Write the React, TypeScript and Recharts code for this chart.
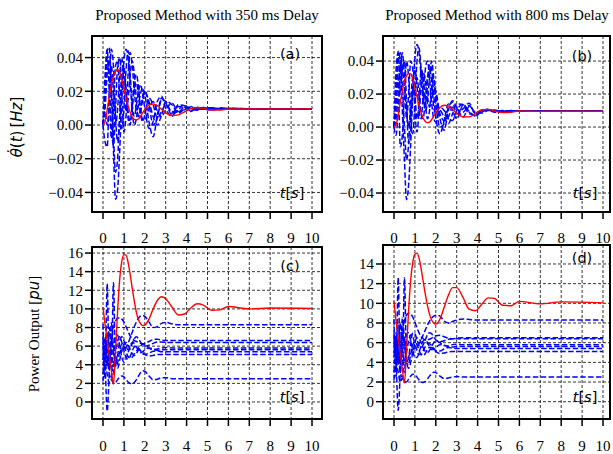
import React from 'react';
import { LineChart, Line, XAxis, YAxis, CartesianGrid, ReferenceArea } from 'recharts';

// shared time grid (s)
const TIME = [
  0, 0.1, 0.2, 0.3, 0.4, 0.5, 0.6, 0.7, 0.8, 0.9, 1.0, 1.1, 1.2, 1.3, 1.4, 1.5, 1.6, 1.7, 1.8, 1.9, 2.0,
  2.2, 2.4, 2.6, 2.8, 3.0, 3.3, 3.6, 3.9, 4.2, 4.5, 4.8, 5.2, 5.6, 6.0, 7.0, 8.0, 10.0,
];
const X_TICKS = [0, 1, 2, 3, 4, 5, 6, 7, 8, 9, 10];
const FREQ_TICKS = [-0.04, -0.02, 0, 0.02, 0.04];
const POWER_TICKS_C = [0, 2, 4, 6, 8, 10, 12, 14, 16];
const POWER_TICKS_D = [0, 2, 4, 6, 8, 10, 12, 14];

const TITLE_A = 'Proposed Method with 350 ms Delay';
const TITLE_B = 'Proposed Method with 800 ms Delay';

// (a) frequency, 350 ms
const RED_A = [
  0, 0.002, 0.009, 0.017, 0.024, 0.029, 0.032, 0.033, 0.0315, 0.027, 0.022, 0.0165, 0.0115, 0.0075, 0.0047, 0.0033,
  0.003, 0.0037, 0.0053, 0.0073, 0.0093, 0.0118, 0.0125, 0.0115, 0.0093, 0.0072, 0.0056, 0.006, 0.0078, 0.0097,
  0.0104, 0.0098, 0.0089, 0.0089, 0.0095, 0.0095, 0.0096, 0.0096,
];
const BLUE_A = [
  [0, 0.02, 0.044, 0.046, 0.02, -0.015, -0.044, -0.038, -0.015, 0.015, 0.038, 0.045, 0.04, 0.025, 0.008, 0.0, 0.004,
    0.012, 0.019, 0.022, 0.018, 0.002, -0.007, 0.006, 0.016, 0.013, 0.006, 0.009, 0.012, 0.008, 0.0105, 0.0095, 0.0088,
    0.0102, 0.0096, 0.0094, 0.0097, 0.0097],
  [0, 0.015, 0.04, 0.028, 0.0, -0.012, 0.01, 0.035, 0.04, 0.018, -0.004, 0.005, 0.03, 0.043, 0.035, 0.02, 0.008,
    0.005, 0.01, 0.017, 0.02, 0.012, 0.0, 0.004, 0.015, 0.014, 0.007, 0.011, 0.0105, 0.0088, 0.0098, 0.0104, 0.0092,
    0.0098, 0.0097, 0.0096, 0.0097, 0.0097],
  [0, -0.01, -0.013, 0.02, 0.045, 0.035, 0.005, -0.01, 0.005, 0.03, 0.035, 0.02, 0.004, 0.0, 0.012, 0.026, 0.03,
    0.022, 0.01, 0.003, 0.003, 0.01, 0.014, 0.008, 0.005, 0.009, 0.013, 0.008, 0.009, 0.011, 0.0092, 0.0098, 0.0103,
    0.0093, 0.0099, 0.0096, 0.0097, 0.0097],
  [0, 0.01, 0.03, 0.038, 0.025, -0.005, -0.028, -0.02, 0.005, 0.025, 0.03, 0.022, 0.008, 0.002, 0.01, 0.022, 0.025,
    0.017, 0.006, 0.002, 0.006, 0.016, 0.012, 0.004, 0.008, 0.012, 0.008, 0.0075, 0.0108, 0.0098, 0.0087, 0.0099,
    0.0101, 0.0094, 0.0098, 0.0096, 0.0097, 0.0097],
  [0, 0.03, 0.045, 0.02, -0.008, 0.01, 0.035, 0.038, 0.015, -0.002, 0.01, 0.032, 0.044, 0.03, 0.012, 0.005, 0.012,
    0.02, 0.024, 0.018, 0.01, -0.002, 0.002, 0.014, 0.017, 0.01, 0.005, 0.012, 0.0115, 0.0082, 0.0101, 0.0102, 0.0091,
    0.01, 0.0095, 0.0097, 0.0097, 0.0097],
  [0, 0.008, 0.0, 0.012, 0.035, 0.02, 0.0, 0.01, 0.03, 0.04, 0.025, 0.008, 0.015, 0.03, 0.038, 0.03, 0.015, 0.005,
    0.008, 0.015, 0.02, 0.014, 0.005, 0.0, 0.006, 0.014, 0.012, 0.007, 0.0095, 0.0108, 0.0094, 0.0093, 0.0102, 0.0096,
    0.0098, 0.0097, 0.0097, 0.0097],
];

// (b) frequency, 800 ms
const RED_B = [
  0, 0.0015, 0.007, 0.015, 0.022, 0.028, 0.031, 0.0325, 0.0322, 0.029, 0.024, 0.0185, 0.013, 0.0085, 0.0053, 0.0034,
  0.0027, 0.003, 0.0045, 0.0065, 0.0087, 0.0118, 0.0132, 0.0128, 0.0108, 0.0083, 0.0061, 0.0062, 0.0083, 0.0105,
  0.0107, 0.0097, 0.0088, 0.009, 0.0097, 0.0095, 0.0096, 0.0096,
];
const BLUE_B = [
  [0, 0.02, 0.046, 0.04, 0.01, -0.02, -0.044, -0.035, -0.01, 0.02, 0.042, 0.05, 0.045, 0.03, 0.015, 0.012, 0.025,
    0.038, 0.035, 0.02, 0.006, -0.004, 0.004, 0.014, 0.01, 0.005, 0.013, 0.008, 0.0075, 0.0105, 0.0102, 0.009, 0.0101,
    0.0096, 0.0098, 0.0096, 0.0097, 0.0097],
  [0, 0.012, 0.03, -0.012, -0.005, 0.02, 0.04, 0.03, 0.005, -0.004, 0.015, 0.04, 0.048, 0.035, 0.02, 0.01, 0.015,
    0.03, 0.04, 0.03, 0.015, 0.0, 0.002, 0.012, 0.015, 0.008, 0.011, 0.0145, 0.0078, 0.0095, 0.0108, 0.0094, 0.0098,
    0.0099, 0.0096, 0.0097, 0.0097, 0.0097],
  [0, 0.035, 0.045, 0.02, 0.035, 0.04, 0.015, -0.01, -0.002, 0.025, 0.035, 0.025, 0.01, 0.005, 0.02, 0.035, 0.04,
    0.03, 0.015, 0.005, 0.003, 0.01, 0.006, 0.002, 0.008, 0.014, 0.0135, 0.0095, 0.0065, 0.0098, 0.0106, 0.0096,
    0.0092, 0.01, 0.0097, 0.0097, 0.0097, 0.0097],
  [0, 0.005, 0.02, 0.04, 0.025, 0.0, -0.02, -0.01, 0.015, 0.03, 0.02, 0.005, 0.015, 0.035, 0.03, 0.015, 0.005, 0.01,
    0.025, 0.03, 0.02, 0.005, -0.002, 0.01, 0.016, 0.012, 0.006, 0.0125, 0.009, 0.0085, 0.01, 0.0103, 0.0095, 0.0097,
    0.0099, 0.0096, 0.0097, 0.0097],
  [0, -0.005, 0.01, 0.03, 0.045, 0.03, 0.005, 0.02, 0.04, 0.035, 0.01, -0.003, 0.01, 0.025, 0.033, 0.028, 0.018,
    0.012, 0.018, 0.024, 0.022, 0.008, 0.004, 0.006, 0.012, 0.011, 0.009, 0.013, 0.0082, 0.0092, 0.0104, 0.01, 0.0094,
    0.0098, 0.0097, 0.0097, 0.0097, 0.0097],
  [0, 0.018, 0.04, 0.045, 0.035, 0.025, 0.01, 0.0, 0.01, 0.02, 0.028, 0.03, 0.02, 0.008, 0.005, 0.018, 0.03, 0.035,
    0.028, 0.012, 0.008, 0.012, 0.01, 0.005, 0.004, 0.01, 0.014, 0.009, 0.0068, 0.01, 0.0103, 0.0097, 0.0096, 0.0099,
    0.0097, 0.0097, 0.0097, 0.0097],
];

// (c) power output, 350 ms
const RED_C = [
  10.2, 8.3, 6.6, 5.0, 3.4, 1.9, 5.5, 9.8, 13.2, 15.1, 15.8, 15.8, 15.0, 13.7, 12.2, 10.8, 9.6, 8.8, 8.4, 8.2, 8.25,
  8.9, 10.0, 10.9, 11.3, 11.1, 10.2, 9.35, 9.45, 10.1, 10.55, 10.4, 9.85, 9.9, 10.25, 10.0, 10.1, 10.05,
];
const BLUE_C = [
  [5.0, 6.0, 3.8, 5.2, 4.5, 3.8, 4.4, 5.0, 5.3, 5.5, 5.6, 5.9, 6.3, 6.9, 7.5, 8.1, 8.6, 9.0, 9.25, 9.3, 9.2, 8.6,
    8.0, 8.1, 8.45, 8.55, 8.4, 8.3, 8.3, 8.3, 8.3, 8.3, 8.3, 8.3, 8.3, 8.3, 8.3, 8.3],
  [8.4, 2.5, 12.7, 3.5, 6.5, 8.0, 8.7, 9.0, 9.05, 8.9, 8.6, 8.1, 7.6, 7.1, 6.8, 6.6, 6.5, 6.4, 6.3, 6.25, 6.3, 6.5,
    6.7, 6.75, 6.65, 6.6, 6.6, 6.6, 6.6, 6.6, 6.6, 6.6, 6.6, 6.6, 6.6, 6.6, 6.6, 6.6],
  [6.5, 4.0, -1.0, 3.0, 7.0, 5.5, 4.0, 5.0, 6.5, 7.0, 6.6, 6.0, 5.6, 5.8, 6.3, 6.8, 7.0, 6.8, 6.4, 6.1, 6.0, 6.1,
    6.3, 6.45, 6.45, 6.4, 6.4, 6.4, 6.4, 6.4, 6.4, 6.4, 6.4, 6.4, 6.4, 6.4, 6.4, 6.4],
  [3.0, 6.5, 5.0, 3.0, 2.5, 12.8, 4.0, 3.6, 4.5, 5.6, 6.2, 6.4, 6.1, 5.6, 5.2, 5.0, 5.2, 5.6, 6.0, 6.2, 6.1, 5.8,
    5.6, 5.7, 5.8, 5.85, 5.8, 5.8, 5.8, 5.8, 5.8, 5.8, 5.8, 5.8, 5.8, 5.8, 5.8, 5.8],
  [6.0, 3.5, 7.5, 6.0, 4.0, 3.0, 6.5, 7.2, 6.0, 4.8, 4.3, 4.6, 5.3, 6.0, 6.4, 6.3, 5.9, 5.5, 5.3, 5.4, 5.6, 5.8,
    5.7, 5.55, 5.6, 5.6, 5.6, 5.6, 5.6, 5.6, 5.6, 5.6, 5.6, 5.6, 5.6, 5.6, 5.6, 5.6],
  [4.5, 7.0, 4.0, 8.0, 5.5, 4.0, 5.2, 6.5, 7.0, 6.4, 5.5, 4.8, 4.6, 4.9, 5.5, 5.9, 6.0, 5.8, 5.5, 5.2, 5.1, 5.25,
    5.45, 5.5, 5.4, 5.4, 5.4, 5.4, 5.4, 5.4, 5.4, 5.4, 5.4, 5.4, 5.4, 5.4, 5.4, 5.4],
  [7.0, 5.0, 6.0, 4.5, 8.5, 6.0, 3.8, 4.2, 5.5, 6.2, 6.0, 5.4, 4.9, 4.7, 4.8, 5.2, 5.5, 5.6, 5.5, 5.3, 5.1, 4.95,
    5.0, 5.1, 5.1, 5.1, 5.1, 5.1, 5.1, 5.1, 5.1, 5.1, 5.1, 5.1, 5.1, 5.1, 5.1, 5.1],
  [2.2, 4.0, 3.0, 2.0, 2.4, 2.0, 2.1, 2.4, 2.7, 2.8, 2.7, 2.4, 2.15, 2.0, 1.95, 2.1, 2.4, 2.8, 3.15, 3.35, 3.3, 2.8,
    2.4, 2.45, 2.6, 2.6, 2.5, 2.5, 2.5, 2.5, 2.5, 2.5, 2.5, 2.5, 2.5, 2.5, 2.5, 2.5],
];

// (d) power output, 800 ms
const RED_D = [
  10.2, 8.2, 6.5, 4.9, 3.3, 1.9, 5.3, 9.3, 12.4, 14.2, 15.0, 15.1, 14.6, 13.5, 12.2, 10.9, 9.8, 8.9, 8.3, 8.0, 7.9,
  8.4, 9.6, 10.8, 11.6, 11.6, 10.6, 9.4, 9.25, 9.9, 10.55, 10.5, 9.8, 9.75, 10.2, 9.95, 10.15, 10.05,
];
const BLUE_D = [
  [5.0, 6.2, 3.8, 5.0, 4.2, 3.6, 4.0, 4.6, 5.0, 5.3, 5.4, 5.6, 5.9, 6.3, 6.8, 7.3, 7.8, 8.2, 8.5, 8.7, 8.8, 8.7,
    8.2, 8.0, 8.15, 8.3, 8.4, 8.35, 8.3, 8.3, 8.3, 8.3, 8.3, 8.3, 8.3, 8.3, 8.3, 8.3],
  [8.4, 2.5, 12.6, 3.0, 6.8, 8.3, 8.8, 9.0, 8.9, 8.6, 8.1, 7.5, 7.0, 6.6, 6.4, 6.3, 6.3, 6.35, 6.45, 6.6, 6.7, 6.75,
    6.6, 6.45, 6.4, 6.45, 6.5, 6.5, 6.5, 6.5, 6.5, 6.5, 6.5, 6.5, 6.5, 6.5, 6.5, 6.5],
  [6.5, 4.0, -0.9, 3.0, 7.0, 5.8, 4.0, 4.5, 6.0, 7.0, 6.9, 6.3, 5.7, 5.5, 5.8, 6.3, 6.8, 7.0, 6.9, 6.6, 6.3, 6.1,
    6.2, 6.35, 6.4, 6.4, 6.4, 6.4, 6.4, 6.4, 6.4, 6.4, 6.4, 6.4, 6.4, 6.4, 6.4, 6.4],
  [3.0, 6.5, 5.0, 3.0, 2.5, 12.6, 4.2, 3.4, 4.0, 5.0, 6.0, 6.5, 6.4, 6.0, 5.5, 5.1, 5.0, 5.2, 5.6, 6.0, 6.2, 6.0,
    5.7, 5.65, 5.8, 5.85, 5.8, 5.8, 5.8, 5.8, 5.8, 5.8, 5.8, 5.8, 5.8, 5.8, 5.8, 5.8],
  [6.0, 3.5, 7.8, 6.0, 4.0, 3.0, 6.8, 7.0, 6.2, 5.2, 4.5, 4.5, 5.0, 5.7, 6.2, 6.3, 6.0, 5.6, 5.3, 5.3, 5.5, 5.8,
    5.75, 5.6, 5.55, 5.6, 5.6, 5.6, 5.6, 5.6, 5.6, 5.6, 5.6, 5.6, 5.6, 5.6, 5.6, 5.6],
  [4.5, 7.0, 4.0, 8.0, 5.5, 4.0, 5.0, 6.2, 6.8, 6.6, 5.9, 5.2, 4.8, 4.8, 5.2, 5.6, 5.9, 5.9, 5.7, 5.4, 5.2, 5.15,
    5.35, 5.5, 5.45, 5.4, 5.4, 5.4, 5.4, 5.4, 5.4, 5.4, 5.4, 5.4, 5.4, 5.4, 5.4, 5.4],
  [7.0, 5.0, 6.0, 4.5, 8.5, 6.2, 3.9, 3.8, 4.8, 5.8, 6.1, 5.8, 5.2, 4.8, 4.7, 4.9, 5.3, 5.5, 5.5, 5.3, 5.1, 4.9,
    4.95, 5.05, 5.1, 5.1, 5.1, 5.1, 5.1, 5.1, 5.1, 5.1, 5.1, 5.1, 5.1, 5.1, 5.1, 5.1],
  [2.2, 4.0, 3.0, 2.0, 2.4, 2.0, 2.0, 2.3, 2.6, 2.8, 2.75, 2.5, 2.2, 2.0, 1.95, 2.05, 2.3, 2.6, 2.85, 3.0, 2.95, 2.6,
    2.35, 2.4, 2.5, 2.55, 2.5, 2.5, 2.5, 2.5, 2.5, 2.5, 2.5, 2.5, 2.5, 2.5, 2.5, 2.5],
];

const SERIF = '"Liberation Serif", "Times New Roman", serif';
const SANS = '"DejaVu Sans", sans-serif';
const BLUE = '#0000ff';
const RED = '#ff0000';

const buildRows = (red: number[], blues: number[][]) =>
  TIME.map((t, i) => {
    const row: Record<string, number> = { t, red: red[i] };
    blues.forEach((b, j) => {
      row['b' + j] = b[i];
    });
    return row;
  });

const fmtFreq = (v: number) => {
  const s = Math.abs(v).toFixed(2);
  return v < -1e-9 ? '\u2212' + s : s;
};

const tickText = { fill: '#000', fontSize: 15, fontFamily: SERIF, style: { fontFamily: SERIF, fontSize: 15 } };
const tickLine = { stroke: '#000', strokeWidth: 1.5 };

interface PanelProps {
  left: number;
  top: number;
  width: number;
  height: number;
  marginTop: number;
  marginRight: number;
  xDomain: [number, number];
  yDomain: [number, number];
  yTicks: number[];
  red: number[];
  blues: number[][];
  freq: boolean;
  topAxisHeight?: number;
  topAxisGap?: number;
}

const Panel: React.FC<PanelProps> = (p) => {
  const rows = buildRows(p.red, p.blues);
  const hasTop = p.topAxisHeight !== undefined;
  return (
    <div style={{ position: 'absolute', left: p.left, top: p.top, fontFamily: SERIF, fontSize: 15 }}>
      <LineChart
        width={p.width}
        height={p.height}
        data={rows}
        margin={{ top: p.marginTop, right: p.marginRight, bottom: 0, left: 0 }}
      >
        <CartesianGrid xAxisId="bx" stroke="#000" strokeDasharray="3 2" strokeWidth={0.8} />
        {hasTop && (
          <XAxis
            xAxisId="tx"
            orientation="top"
            dataKey="t"
            type="number"
            domain={p.xDomain}
            ticks={X_TICKS}
            interval={0}
            allowDataOverflow
            height={p.topAxisHeight}
            axisLine={false}
            tickLine={false}
            tickSize={0}
            tickMargin={p.topAxisGap}
            tick={tickText}
          />
        )}
        <XAxis
          xAxisId="bx"
          dataKey="t"
          type="number"
          domain={p.xDomain}
          ticks={X_TICKS}
          interval={0}
          allowDataOverflow
          height={p.freq ? 28 : 35}
          axisLine={false}
          tickLine={tickLine}
          tickSize={7}
          tickMargin={14}
          tick={tickText}
          tickFormatter={p.freq ? () => '' : (v: number) => String(v)}
        />
        <YAxis
          type="number"
          domain={p.yDomain}
          ticks={p.yTicks}
          interval={0}
          allowDataOverflow
          width={92}
          axisLine={false}
          tickLine={tickLine}
          tickSize={7}
          tickMargin={2}
          tick={tickText}
          tickFormatter={p.freq ? fmtFreq : (v: number) => String(v)}
        />
        {p.blues.map((_, j) => (
          <Line
            key={j}
            xAxisId="bx"
            type="monotone"
            dataKey={'b' + j}
            stroke={BLUE}
            strokeWidth={1.5}
            strokeDasharray="5.5 2.4"
            dot={false}
            isAnimationActive={false}
          />
        ))}
        <Line
          xAxisId="bx"
          type="monotone"
          dataKey="red"
          stroke={RED}
          strokeWidth={1.4}
          dot={false}
          isAnimationActive={false}
        />
        <ReferenceArea
          xAxisId="bx"
          x1={p.xDomain[0]}
          x2={p.xDomain[1]}
          y1={p.yDomain[0]}
          y2={p.yDomain[1]}
          fill="none"
          stroke="#000"
          strokeWidth={2}
          ifOverflow="visible"
        />
      </LineChart>
    </div>
  );
};

const Txt: React.FC<{ x: number; y: number; rotate?: boolean; style?: React.CSSProperties; children: React.ReactNode }> = ({
  x,
  y,
  rotate,
  style,
  children,
}) => (
  <div
    style={{
      position: 'absolute',
      left: x,
      top: y,
      transform: `translate(-50%, -50%)${rotate ? ' rotate(-90deg)' : ''}`,
      whiteSpace: 'nowrap',
      lineHeight: 1,
      color: '#000',
      ...style,
    }}
  >
    {children}
  </div>
);

const serif15 = { fontFamily: SERIF, fontSize: 15 };
const sans14 = { fontFamily: SANS, fontSize: 14.5 };
const TS = () => (
  <span>
    <i>t</i>[<i>s</i>]
  </span>
);

export default function App() {
  const xA: [number, number] = [-0.526, 10.478];
  const xB: [number, number] = [-0.526, 10.335];
  return (
    <div style={{ position: 'fixed', left: 0, top: 0, width: 613, height: 454, background: '#fff', overflow: 'hidden' }}>
      <Panel left={0} top={0} width={330} height={240} marginTop={36} marginRight={8} xDomain={xA}
        yDomain={[-0.0516, 0.0528]} yTicks={FREQ_TICKS} red={RED_A} blues={BLUE_A} freq />
      <Panel left={291} top={0} width={322} height={240} marginTop={36} marginRight={3} xDomain={xB}
        yDomain={[-0.0515, 0.0552]} yTicks={FREQ_TICKS} red={RED_B} blues={BLUE_B} freq />
      <Panel left={0} top={215} width={330} height={239} marginTop={0} marginRight={8} xDomain={xA}
        yDomain={[-1.83, 16.65]} yTicks={POWER_TICKS_C} red={RED_C} blues={BLUE_C} freq={false}
        topAxisHeight={32} topAxisGap={4} />
      <Panel left={291} top={215} width={322} height={239} marginTop={0} marginRight={3} xDomain={xB}
        yDomain={[-1.76, 15.93]} yTicks={POWER_TICKS_D} red={RED_D} blues={BLUE_D} freq={false}
        topAxisHeight={30} topAxisGap={2} />

      <Txt x={207} y={15} style={serif15}>{TITLE_A}</Txt>
      <Txt x={497} y={15} style={serif15}>{TITLE_B}</Txt>

      <Txt x={17} y={127} rotate style={{ fontFamily: SANS, fontSize: 15 }}>
        <i>{'\u03B8\u0307'}</i>(<i>t</i>)&#8201;[<i>Hz</i>]
      </Txt>
      <Txt x={34} y={334} rotate style={serif15}>
        Power Output [<i style={{ fontFamily: SANS }}>pu</i>]
      </Txt>

      <Txt x={290} y={54} style={sans14}>(a)</Txt>
      <Txt x={582} y={56} style={sans14}>(b)</Txt>
      <Txt x={290} y={266} style={sans14}>(c)</Txt>
      <Txt x={582} y={258} style={sans14}>(d)</Txt>

      <Txt x={292} y={193} style={sans14}><TS /></Txt>
      <Txt x={585} y={193} style={sans14}><TS /></Txt>
      <Txt x={292} y={397} style={sans14}><TS /></Txt>
      <Txt x={585} y={397} style={sans14}><TS /></Txt>
    </div>
  );
}
